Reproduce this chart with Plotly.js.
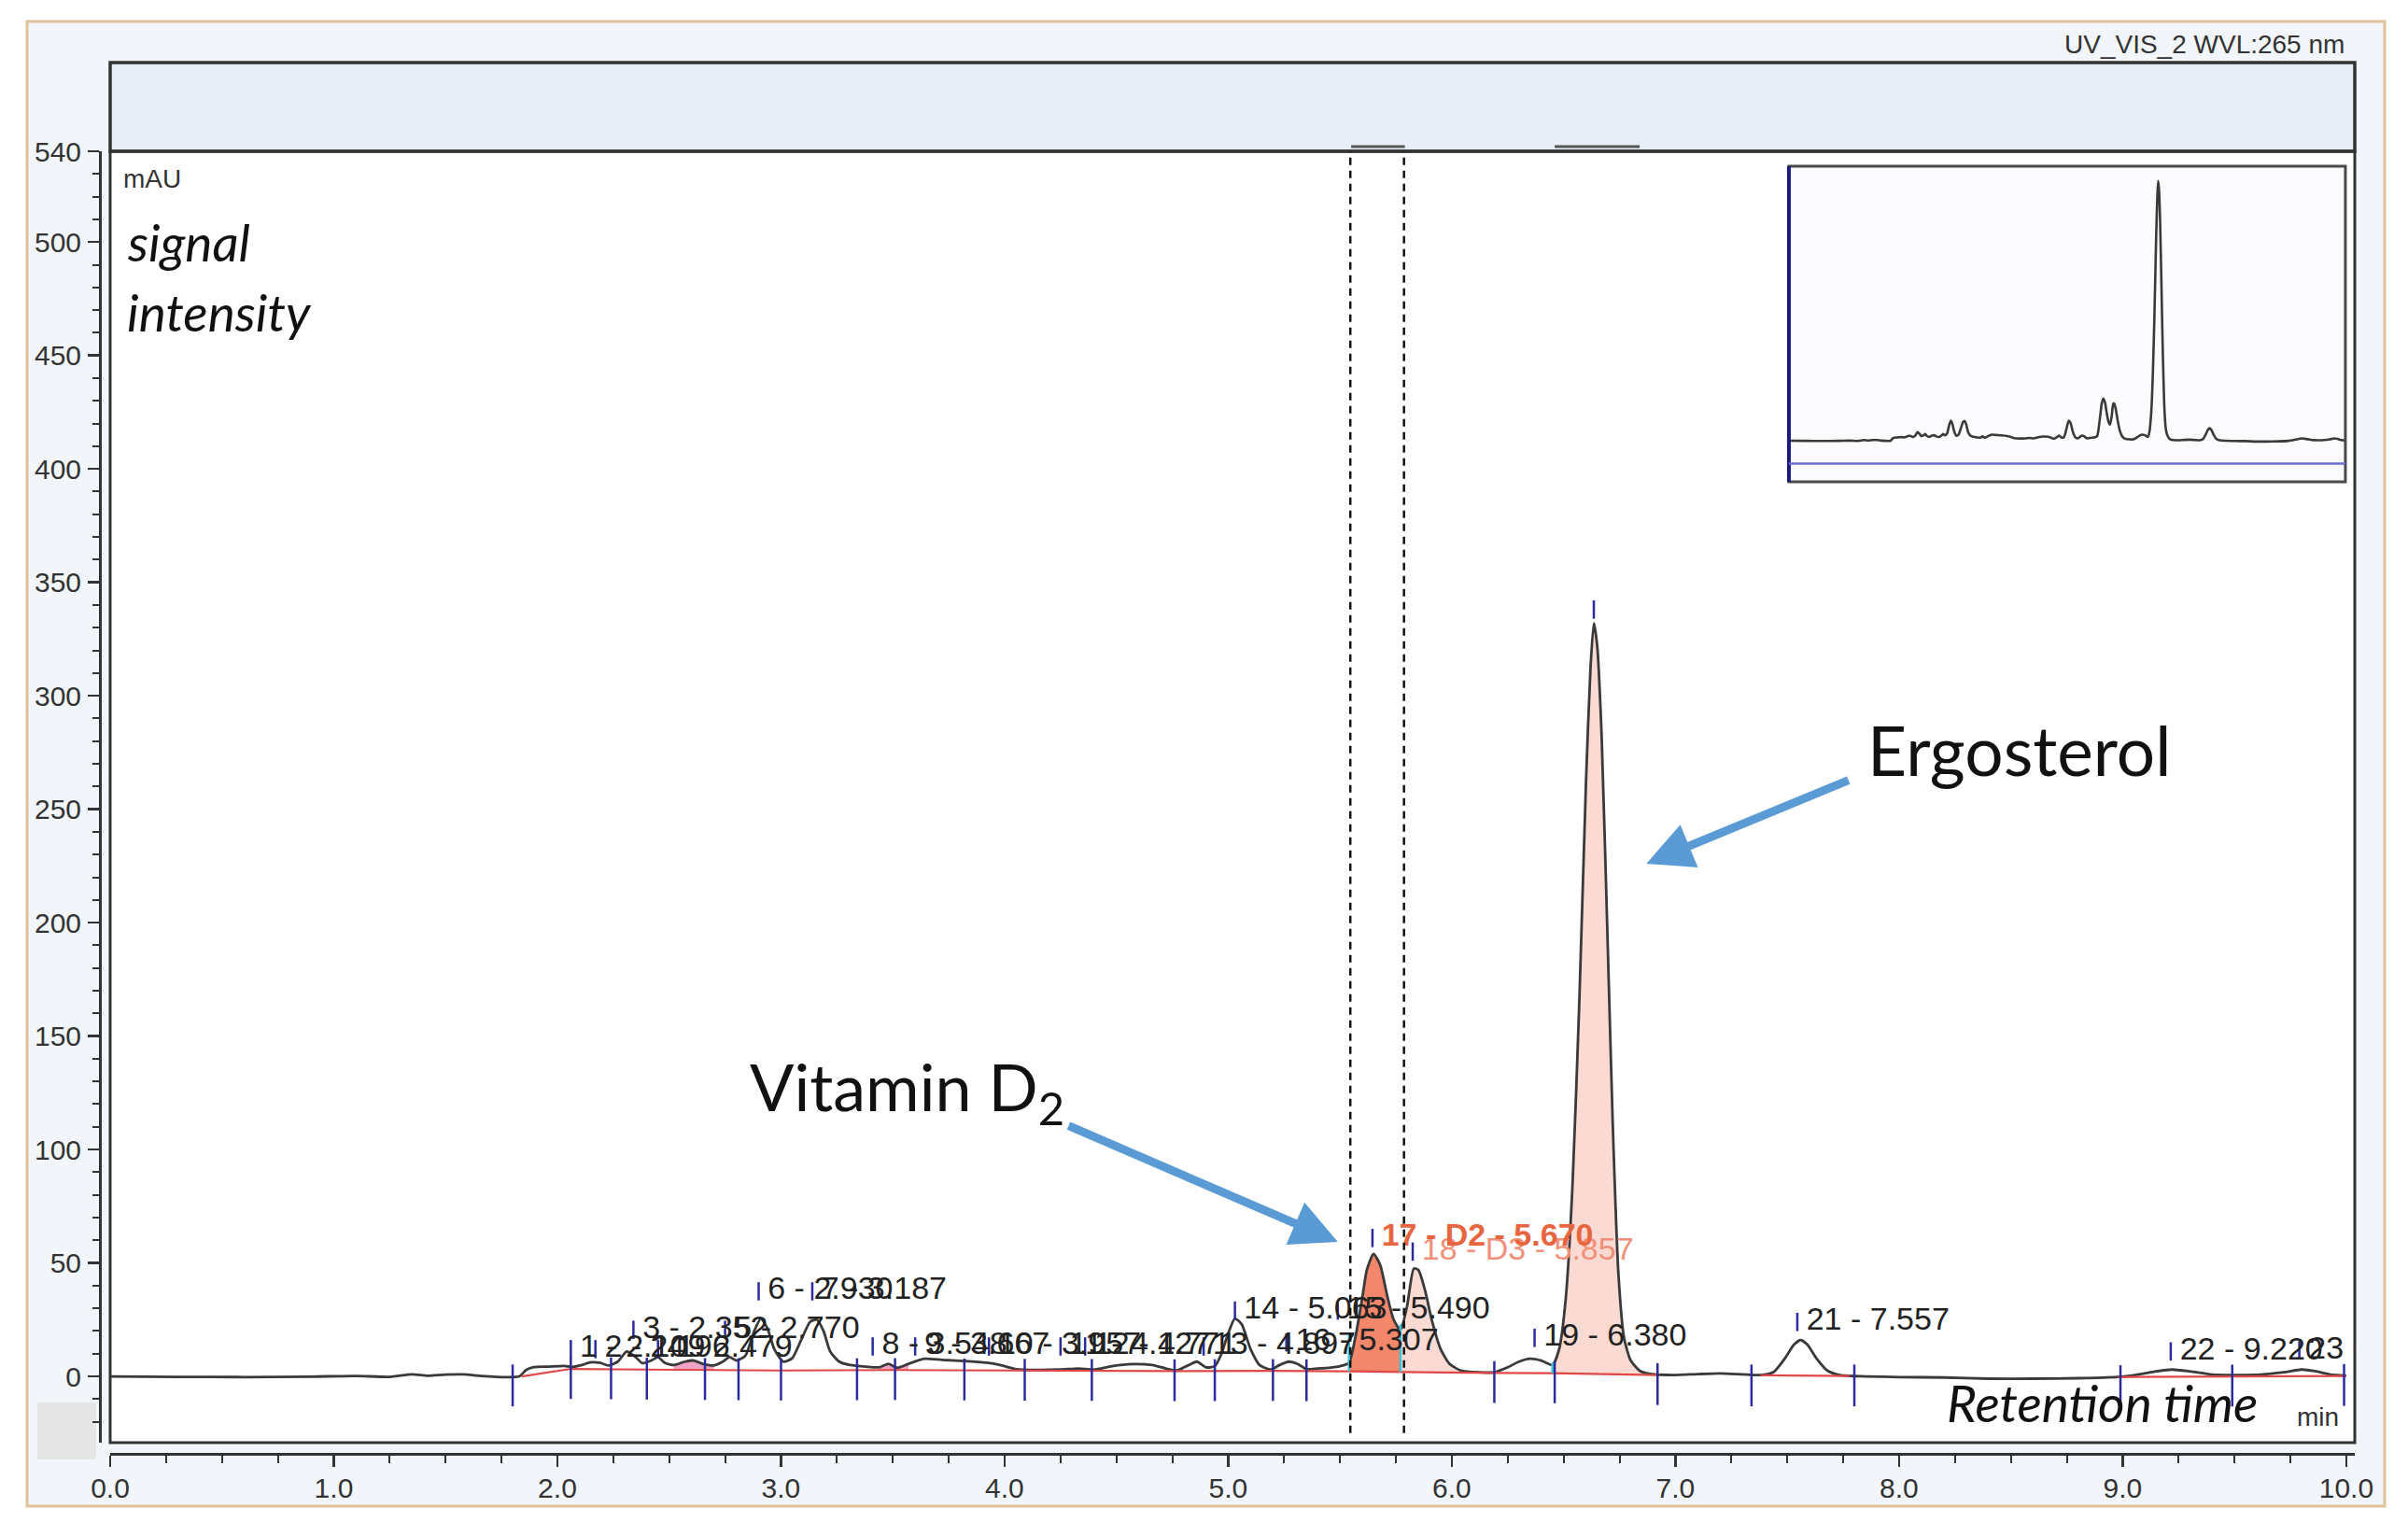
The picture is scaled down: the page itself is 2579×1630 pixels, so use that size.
<!DOCTYPE html>
<html><head><meta charset="utf-8">
<script src="https://cdn.plot.ly/plotly-3.0.1.min.js"></script>
<style>html,body{margin:0;padding:0;background:#fff;}#chart{width:2579px;height:1630px;}</style>
</head><body><div id="chart"></div>
<script>
// ---------- data ----------
const time = [0.00,0.30,0.60,0.90,1.10,1.25,1.35,1.42,1.50,1.58,1.66,1.78,1.83,1.86,1.89,1.96,2.03,2.07,2.11,2.15,2.19,2.23,2.27,2.31,2.35,2.38,2.42,2.45,2.48,2.52,2.57,2.61,2.65,2.70,2.74,2.77,2.80,2.84,2.88,2.91,2.94,2.97,3.01,3.05,3.09,3.13,3.16,3.19,3.22,3.26,3.31,3.38,3.44,3.48,3.52,3.57,3.64,3.72,3.82,3.92,3.98,4.05,4.15,4.25,4.33,4.40,4.48,4.57,4.66,4.72,4.77,4.82,4.86,4.90,4.94,4.97,5.00,5.03,5.06,5.10,5.14,5.19,5.23,5.27,5.31,5.35,5.40,5.45,5.50,5.54,5.57,5.60,5.62,5.65,5.68,5.71,5.74,5.77,5.80,5.83,5.85,5.88,5.91,5.95,5.99,6.04,6.12,6.19,6.25,6.30,6.35,6.40,6.45,6.48,6.51,6.54,6.57,6.60,6.62,6.635,6.65,6.67,6.70,6.72,6.745,6.77,6.80,6.84,6.88,6.92,7.00,7.10,7.20,7.30,7.38,7.44,7.49,7.53,7.56,7.59,7.63,7.68,7.74,7.85,8.00,8.20,8.40,8.60,8.80,8.98,9.05,9.15,9.22,9.30,9.40,9.50,9.62,9.72,9.80,9.86,9.93,10.00];
const signal = [0.0,-0.2,-0.3,-0.1,0.2,-0.2,0.9,0.3,0.8,0.9,0.2,-0.3,0.0,2.8,4.0,4.3,4.6,4.2,5.0,6.2,6.0,4.8,6.5,11.0,8.5,5.8,7.0,8.5,6.0,5.0,6.5,7.0,5.5,4.8,6.5,8.5,7.0,9.0,20.0,25.5,21.0,12.0,6.5,8.0,16.0,24.0,25.0,20.0,11.0,6.5,5.0,4.3,4.0,5.5,3.8,5.5,7.8,7.3,6.8,6.0,5.0,3.2,2.8,3.0,3.5,3.0,4.5,5.4,5.0,3.5,2.6,4.8,6.5,4.0,4.5,10.0,19.0,25.5,23.0,12.0,5.0,3.0,5.0,6.5,5.5,3.2,3.5,3.8,4.5,6.0,18.0,35.0,47.0,54.0,49.0,36.0,25.0,20.5,31.0,47.5,47.0,38.0,25.0,12.0,5.5,2.6,1.8,1.8,4.0,6.5,7.8,7.0,5.0,12.0,35.0,85.0,165.0,262.0,312.0,332.0,322.0,282.0,180.0,110.0,45.0,17.0,7.0,2.5,1.2,0.8,0.6,1.0,1.3,0.9,0.6,2.0,8.0,14.0,16.0,14.0,8.0,2.5,0.5,0.0,-0.3,-0.5,-1.0,-1.0,-0.8,-0.2,0.5,2.2,3.0,2.2,0.8,0.6,0.8,1.8,3.0,2.3,0.8,0.3];

// integration baseline (segments separated by null)
const baselineTime   = [1.84,2.06,2.40,3.00,3.50,4.10,4.77,5.20,5.54,6.19,6.45,6.92,null,7.38,7.78,null,8.98,10.0];
const baselineSignal = [0.0,3.3,3.0,2.6,2.8,2.5,2.3,2.4,2.2,1.5,1.4,0.6,null,0.5,0.2,null,-0.3,0.2];

// peak delimiter ticks
const delimiterTime = [1.80,2.06,2.24,2.40,2.66,2.81,3.00,3.34,3.51,3.82,4.09,4.39,4.76,4.94,5.20,5.35,6.19,6.46,6.92,7.34,7.80,8.99,9.49,9.99];
// D2 peak borders (cyan)
const borderTime = [5.54,5.77,6.45];
const borderTop  = [19,23,6];

// peak labels
const peakLabels  = ["1 - 2.109","2 - 2.196","3 - 2.352","4 - 2.479","5 - 2.770","6 - 2.930","7 - 3.187","8 - 3.548","9 - 3.667","10 - 3.957","11 - 4.127","12 - 4.771","13 - 4.897","14 - 5.063","15 - 5.490","16 - 5.307","19 - 6.380","","21 - 7.557","22 - 9.220","23 - 9.815"];
const labelTime   = [2.06,2.17,2.34,2.45,2.75,2.90,3.14,3.41,3.60,3.93,4.25,4.36,4.89,5.03,5.49,5.26,6.37,6.635,7.545,9.215,9.79];
const labelSignal = [12,12,20.5,12,20.5,37.5,37.5,13.2,13.2,13.2,13.2,13.2,13.2,29,29,15,17,338,24,11,11.5];
const d2Label = ["17 - D2 - 5.670"], d2Time = [5.645], d2Signal = [61];
const d3Label = ["18 - D3 - 5.857"], d3Time = [5.825], d3Signal = [55];

// filled (integrated) areas
const fillStart = [2.52,3.44,5.54,5.77,6.45];
const fillEnd   = [2.70,3.57,5.77,6.19,6.92];
const fillColors = ['#f2a3c4','#f2a3c4','#f2876b','#fbdad3','#fbdad3'];

// D2 window (dashed lines) and event bars
const windowBounds = [5.546,5.786];
const eventStart = [5.55,6.46];
const eventEnd   = [5.79,6.84];

const yTicks = [0,50,100,150,200,250,300,350,400,450,500,540];
const yRange = [-29.2,540];

// ---------- helpers ----------
function baseAt(t){
  for(let i=0;i<baselineTime.length-1;i++){
    const a=baselineTime[i], b=baselineTime[i+1];
    if(a===null||b===null) continue;
    if(t>=a-1e-9 && t<=b+1e-9){
      const f=(t-a)/(b-a); return baselineSignal[i]+f*(baselineSignal[i+1]-baselineSignal[i]);
    }
  }
  return 0;
}
function segment(a,b){
  const xs=[],ys=[];
  for(let i=0;i<time.length;i++){ if(time[i]>=a-1e-9 && time[i]<=b+1e-9){xs.push(time[i]);ys.push(signal[i]);} }
  return {xs,ys};
}

const SANS = 'Liberation Sans, Arial, sans-serif';
const HUM = 'Lato, Open Sans, sans-serif';
const traces = [];

// fills
for(let k=0;k<fillStart.length;k++){
  const a=fillStart[k], b=fillEnd[k];
  traces.push({x:[a,b],y:[baseAt(a),baseAt(b)],mode:'lines',line:{width:0},hoverinfo:'skip',xaxis:'x',yaxis:'y'});
  const s=segment(a,b);
  traces.push({x:s.xs,y:s.ys,mode:'lines',line:{width:0,shape:'spline',smoothing:0.6},fill:'tonexty',fillcolor:fillColors[k],hoverinfo:'skip',xaxis:'x',yaxis:'y'});
}
// main chromatogram
traces.push({x:time,y:signal,mode:'lines',line:{color:'#3a3a3a',width:2.8,shape:'spline',smoothing:0.6},xaxis:'x',yaxis:'y'});
// baseline
traces.push({x:baselineTime,y:baselineSignal,mode:'lines',line:{color:'#e04848',width:2.2},connectgaps:false,xaxis:'x',yaxis:'y'});
// cyan borders
const bx=[],by=[];
borderTime.forEach((t,i)=>{bx.push(t,t,null);by.push(baseAt(t),borderTop[i],null);});
traces.push({x:bx,y:by,mode:'lines',line:{color:'#3cc3d3',width:2.5},xaxis:'x',yaxis:'y'});
// delimiter ticks
traces.push({x:delimiterTime,y:delimiterTime.map(t=>baseAt(t)-4),mode:'markers',
  marker:{symbol:'line-ns',size:32,color:'#2b2b9e',line:{width:2.5,color:'#2b2b9e'}},xaxis:'x',yaxis:'y'});
// labels
traces.push({x:labelTime,y:labelSignal,text:peakLabels,mode:'markers+text',textposition:'middle right',cliponaxis:true,
  marker:{symbol:'line-ns',size:14,color:'#2b2b9e',line:{width:2.5,color:'#2b2b9e'}},
  textfont:{family:SANS,size:34,color:'#222'},xaxis:'x',yaxis:'y'});
traces.push({x:d3Time,y:d3Signal,text:d3Label,mode:'markers+text',textposition:'middle right',cliponaxis:true,
  marker:{symbol:'line-ns',size:14,color:'#2b2b9e',line:{width:2.5,color:'#2b2b9e'}},
  textfont:{family:SANS,size:34,color:'#f0907a'},xaxis:'x',yaxis:'y'});
traces.push({x:d2Time,y:d2Signal,text:d2Label,mode:'markers+text',textposition:'middle right',cliponaxis:true,
  marker:{symbol:'line-ns',size:14,color:'#2b2b9e',line:{width:2.5,color:'#2b2b9e'}},
  textfont:{family:SANS,size:34,color:'#e8663f',weight:'bold'},xaxis:'x',yaxis:'y'});
// inset overview
traces.push({x:time,y:signal,mode:'lines',line:{color:'#3a3a3a',width:2.6,shape:'spline',smoothing:0.6},xaxis:'x2',yaxis:'y2'});

// ---------- layout ----------
const XD=[0.04575,0.9779], YD=[0.05215,0.9006], BAND=[0.9006,0.9589];
const IXD=[0.7429,0.9740], IYD=[0.6834,0.8908];

const shapes = [
  {type:'rect',xref:'paper',yref:'paper',x0:0.01124,x1:0.99031,y0:0.01043,y1:0.98589,fillcolor:'#f2f6fb',line:{color:'#dcc39a',width:3},layer:'below'},
  {type:'rect',xref:'paper',yref:'paper',x0:XD[0],x1:XD[1],y0:YD[0],y1:YD[1],fillcolor:'#ffffff',line:{width:0},layer:'below'},
  {type:'rect',xref:'paper',yref:'paper',x0:XD[0],x1:XD[1],y0:BAND[0],y1:BAND[1],fillcolor:'#e7eef7',line:{width:0},layer:'below'},
  {type:'rect',xref:'paper',yref:'paper',x0:0.0155,x1:0.0399,y0:0.0411,y1:0.0785,fillcolor:'#e6e6e6',line:{width:0},layer:'below'},
  {type:'rect',xref:'paper',yref:'paper',x0:IXD[0],x1:IXD[1],y0:IYD[0],y1:IYD[1],fillcolor:'#fbfbfe',line:{width:0},layer:'below'},
  {type:'rect',xref:'paper',yref:'paper',x0:XD[0],x1:XD[1],y0:YD[0],y1:YD[1],line:{color:'#333',width:3},layer:'above'},
  {type:'rect',xref:'paper',yref:'paper',x0:XD[0],x1:XD[1],y0:BAND[0],y1:BAND[1],line:{color:'#333',width:3.5},layer:'above'},
  {type:'rect',xref:'paper',yref:'paper',x0:IXD[0],x1:IXD[1],y0:IYD[0],y1:IYD[1],line:{color:'#4a4a4a',width:3},layer:'above'},
  {type:'line',xref:'paper',yref:'paper',x0:IXD[0],x1:IXD[0],y0:IYD[0],y1:IYD[1],line:{color:'#1b1b7e',width:4},layer:'above'},
  {type:'line',xref:'paper',yref:'y2',x0:IXD[0],x1:IXD[1],y0:yRange[0],y1:yRange[0],line:{color:'#6b6bd6',width:2.5},layer:'above'}
];
windowBounds.forEach(t=>shapes.push({type:'line',xref:'x',yref:'y',x0:t,x1:t,y0:-25,y1:540,line:{color:'#111',width:2.5,dash:'8px,6px'},layer:'above'}));
eventStart.forEach((t,i)=>shapes.push({type:'line',xref:'x',yref:'paper',x0:t,x1:eventEnd[i],y0:0.9037,y1:0.9037,line:{color:'#555',width:3},layer:'above'}));

const annotations = [
  {xref:'paper',yref:'paper',x:0.9744,y:0.9706,xanchor:'right',yanchor:'middle',text:'UV_VIS_2 WVL:265 nm',showarrow:false,font:{family:SANS,size:28,color:'#333'}},
  {xref:'paper',yref:'paper',x:0.0505,y:0.8828,xanchor:'left',yanchor:'middle',text:'mAU',showarrow:false,font:{family:SANS,size:28,color:'#333'}},
  {xref:'paper',yref:'paper',x:0.0520,y:0.8410,xanchor:'left',yanchor:'middle',text:'<i>signal</i>',showarrow:false,font:{family:HUM,size:55,color:'#111'}},
  {xref:'paper',yref:'paper',x:0.0520,y:0.7951,xanchor:'left',yanchor:'middle',text:'<i>intensity</i>',showarrow:false,font:{family:HUM,size:55,color:'#111'}},
  {xref:'paper',yref:'paper',x:0.8075,y:0.0785,xanchor:'left',yanchor:'middle',text:'<i>Retention time</i>',showarrow:false,font:{family:HUM,size:55,color:'#111'}},
  {xref:'paper',yref:'paper',x:0.9530,y:0.0693,xanchor:'left',yanchor:'middle',text:'min',showarrow:false,font:{family:SANS,size:28,color:'#333'}},
  {xref:'x',yref:'y',x:2.85,y:126,xanchor:'left',yanchor:'middle',text:'Vitamin D<sub>2</sub>',showarrow:false,font:{family:HUM,size:70,color:'#111'}},
  {xref:'x',yref:'y',x:7.85,y:276,xanchor:'left',yanchor:'middle',text:'Ergosterol',showarrow:false,font:{family:HUM,size:73,color:'#111'}},
  {xref:'x',yref:'y',axref:'x',ayref:'y',x:5.49,y:59.3,ax:4.28,ay:110.7,text:'',showarrow:true,arrowhead:2,arrowsize:1.1,arrowwidth:9,arrowcolor:'#5b9bd5',standoff:0},
  {xref:'x',yref:'y',axref:'x',ayref:'y',x:6.87,y:226,ax:7.78,ay:263,text:'',showarrow:true,arrowhead:2,arrowsize:1.1,arrowwidth:9,arrowcolor:'#5b9bd5',standoff:0}
];

const layout = {
  width:2579,height:1630,margin:{l:0,r:0,t:0,b:0},showlegend:false,hovermode:false,
  paper_bgcolor:'#ffffff',plot_bgcolor:'rgba(0,0,0,0)',
  xaxis:{domain:XD,range:[0,10.038],anchor:'free',position:0.0448,showline:true,linecolor:'#333',linewidth:3,
    ticks:'outside',ticklen:12,tickwidth:2.5,tickcolor:'#333',tick0:0,dtick:1,tickformat:'.1f',ticklabelstandoff:-3,
    minor:{ticks:'outside',tick0:0,dtick:0.25,ticklen:8,tickwidth:2,tickcolor:'#333'},
    showgrid:false,zeroline:false,tickfont:{family:SANS,size:30,color:'#333'}},
  yaxis:{domain:YD,range:yRange,anchor:'free',position:0.0415,showline:true,linecolor:'#333',linewidth:3,
    ticks:'outside',ticklen:12,tickwidth:2.5,tickcolor:'#333',tickmode:'array',tickvals:yTicks,ticklabelstandoff:1,
    minor:{tickmode:'linear',tick0:0,dtick:10,ticks:'outside',ticklen:7,tickwidth:2,tickcolor:'#333'},
    showgrid:false,zeroline:false,tickfont:{family:SANS,size:30,color:'#333'}},
  xaxis2:{domain:IXD,range:[0,10],anchor:'y2',visible:false},
  yaxis2:{domain:IYD,range:[-52.6,351],anchor:'x2',visible:false},
  shapes:shapes,annotations:annotations
};
Plotly.newPlot('chart',traces,layout,{staticPlot:true,displayModeBar:false});
</script></body></html>
